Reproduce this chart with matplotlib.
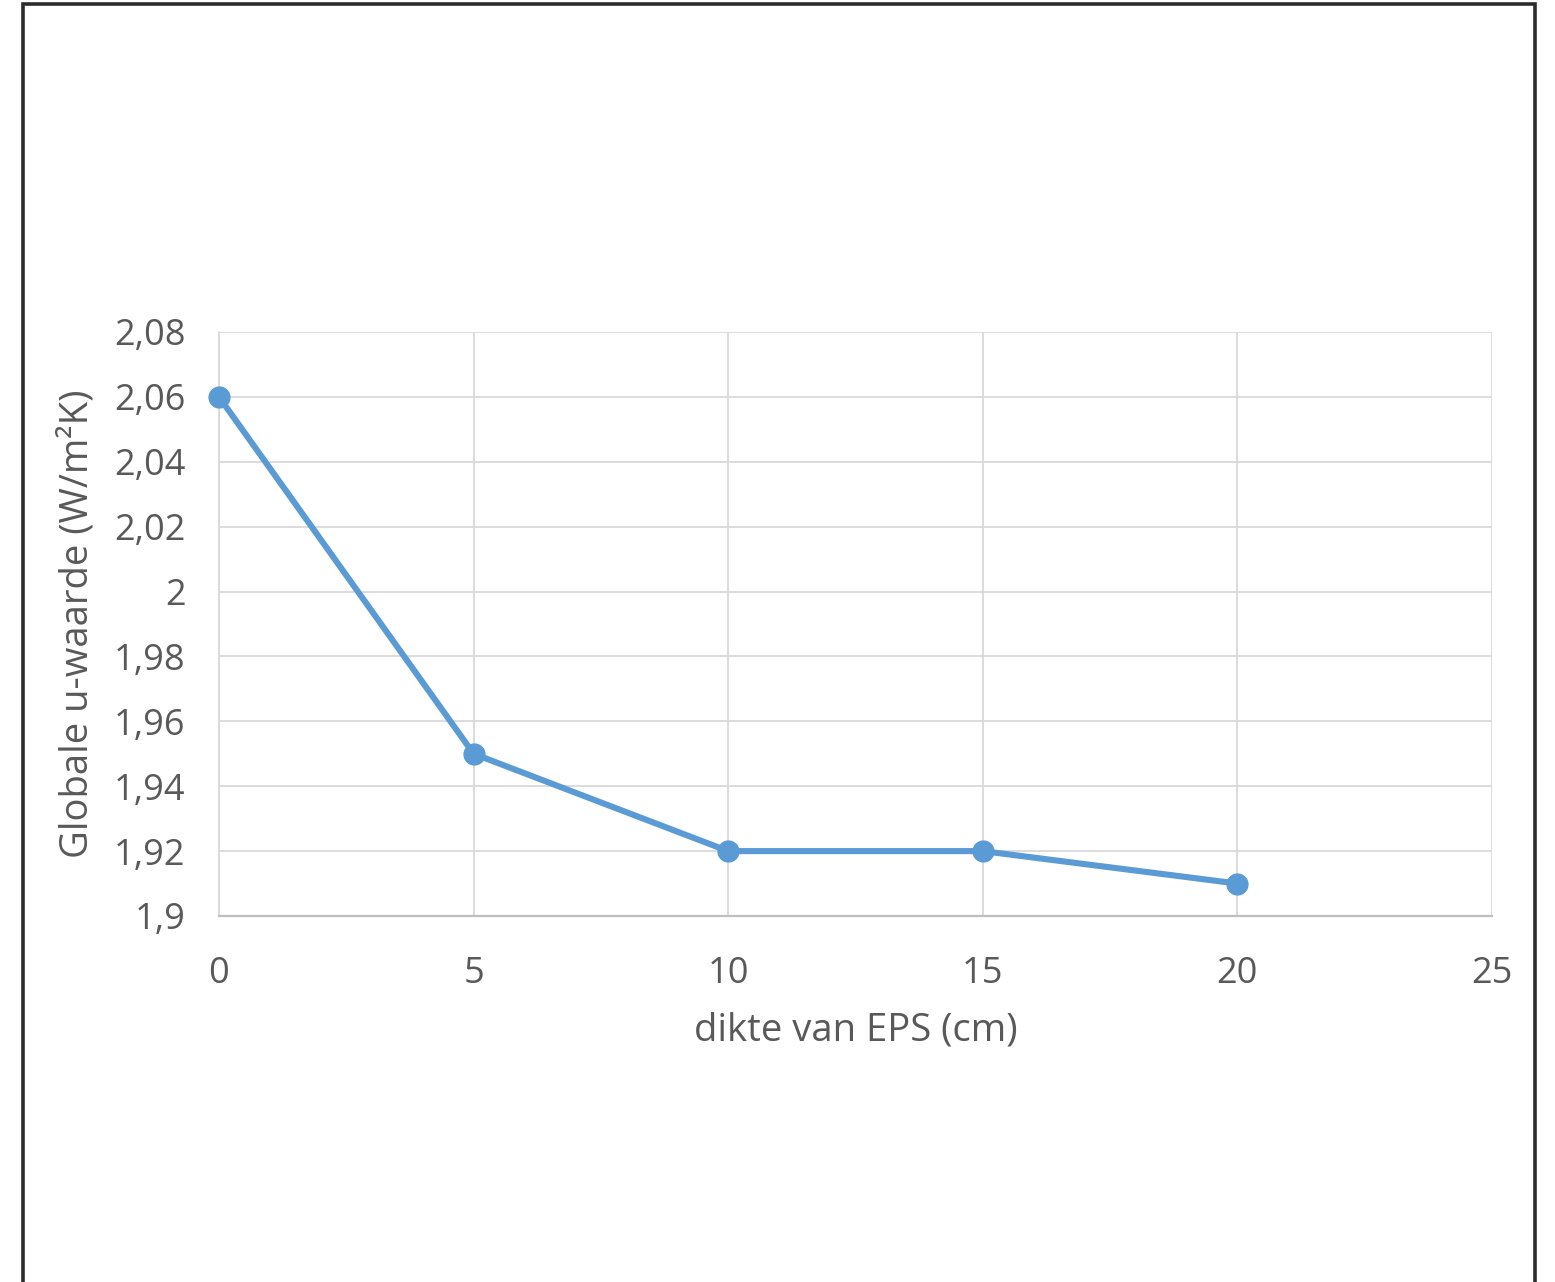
import matplotlib
matplotlib.use("Agg")
import matplotlib.pyplot as plt
from matplotlib.patches import Rectangle
from matplotlib.ticker import FuncFormatter, MultipleLocator

# EPS thickness (cm) and resulting overall U-value (W/m²K)
thickness_cm = [0, 5, 10, 15, 20]
u_value = [2.06, 1.95, 1.92, 1.92, 1.91]

x_label = "dikte van EPS (cm)"
y_label = "Globale u-waarde (W/m²K)"

plt.rcParams['font.family'] = ['Open Sans', 'DejaVu Sans']

W, H = 1555, 1282
fig = plt.figure(figsize=(W / 100, H / 100), dpi=100)
fig.patch.set_facecolor("white")

# outer frame around the chart
fig.patches.append(Rectangle((23 / W, -0.05), (1535 - 23) / W, 1.05 - 4 / H,
                             transform=fig.transFigure, fill=False,
                             edgecolor="#2b2b2b", linewidth=2.6))

ax = fig.add_axes([219 / W, (H - 916) / H, (1492 - 219) / W, (916 - 332) / H])

ax.plot(thickness_cm, u_value, color="#5B9BD5", linewidth=4.4,
        marker="o", markersize=15, solid_capstyle="round",
        solid_joinstyle="round", zorder=3, clip_on=False)

ax.set_xlim(0, 25)
ax.set_ylim(1.9, 2.08)
ax.xaxis.set_major_locator(MultipleLocator(5))
ax.yaxis.set_major_locator(MultipleLocator(0.02))


def fmt(v, pos):
    s = f"{v:.2f}".rstrip("0").rstrip(".")
    return s.replace(".", ",")


ax.yaxis.set_major_formatter(FuncFormatter(fmt))
ax.xaxis.set_major_formatter(FuncFormatter(lambda v, p: f"{int(round(v))}"))

ax.grid(True, color="#D9D9D9", linewidth=1.3)
ax.set_axisbelow(True)
for side in ax.spines:
    ax.spines[side].set_visible(False)
ax.spines["bottom"].set_visible(True)
ax.spines["bottom"].set_color("#BFBFBF")
ax.spines["bottom"].set_linewidth(1.6)
ax.spines["left"].set_visible(True)
ax.spines["left"].set_color("#D9D9D9")
ax.spines["left"].set_linewidth(1.3)

ax.tick_params(axis="both", length=0, labelsize=26, labelcolor="#595959")
ax.tick_params(axis="y", pad=24)
ax.tick_params(axis="x", pad=29)

ax.set_xlabel(x_label, fontsize=27.5, color="#595959", va="center")
ax.set_ylabel(y_label, fontsize=27.5, color="#595959", va="center")
ax.xaxis.set_label_coords(0.5004, (916 - 1031) / 584)
ax.yaxis.set_label_coords((78 - 219) / 1273, 0.5)

fig.savefig("out.png", dpi=100, facecolor="white")
